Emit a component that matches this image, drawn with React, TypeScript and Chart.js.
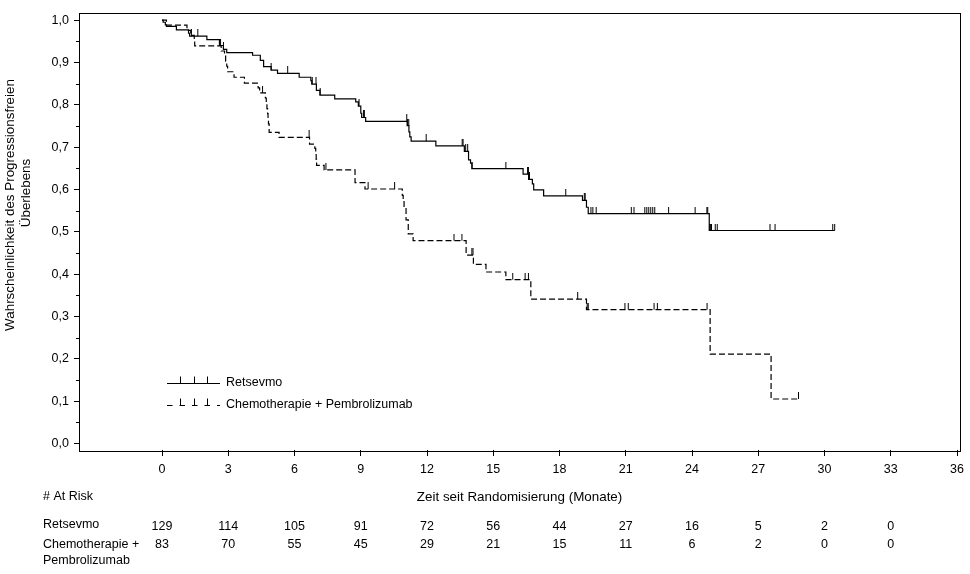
import { useEffect, useRef } from 'react';
import { Chart, registerables } from 'chart.js';
import type { Plugin } from 'chart.js';

Chart.register(...registerables);

const FONT = '"Liberation Sans", Arial, Helvetica, sans-serif';

const seriesLabels = ['Retsevmo', 'Chemotherapie + Pembrolizumab'];
const riskRowLabels = [['Retsevmo'], ['Chemotherapie +', 'Pembrolizumab']];
const yTitleLines = ['Wahrscheinlichkeit des Progressionsfreien', 'Überlebens'];
const xTitle = 'Zeit seit Randomisierung (Monate)';
const riskTitle = '# At Risk';

const xTicks = [0, 3, 6, 9, 12, 15, 18, 21, 24, 27, 30, 33, 36];
const yTicks = [0, 0.1, 0.2, 0.3, 0.4, 0.5, 0.6, 0.7, 0.8, 0.9, 1.0];
const yMinorTicks = [0.05, 0.15, 0.25, 0.35, 0.45, 0.55, 0.65, 0.75, 0.85, 0.95];

// number at risk
const riskTimes = [0, 3, 6, 9, 12, 15, 18, 21, 24, 27, 30, 33];
const retsevmoRisk = [129, 114, 105, 91, 72, 56, 44, 27, 16, 5, 2, 0];
const chemoRisk = [83, 70, 55, 45, 29, 21, 15, 11, 6, 2, 0, 0];

// Retsevmo: event times (months) and survival after each drop
const retsevmoTimes = [
  0.05, 0.15, 0.2, 0.65, 1.2, 1.25, 2.03, 2.6, 2.78, 2.93, 4.1, 4.45, 4.6, 4.94, 5.23,
  6.21, 6.74, 6.78, 6.99, 7.15, 7.82, 8.77, 8.89, 9.0, 9.04, 9.22, 11.1, 11.18, 11.22,
  11.28, 12.4, 13.69, 13.88, 13.97, 14.03, 16.35, 16.6, 16.77, 16.83, 17.28, 19.04,
  19.22, 19.3, 24.78,
];
const retsevmoSurv = [
  0.995, 0.989, 0.985, 0.977, 0.969, 0.962, 0.954, 0.94, 0.931, 0.923, 0.917, 0.905,
  0.89, 0.882, 0.874, 0.865, 0.857, 0.849, 0.834, 0.823, 0.814, 0.807, 0.797, 0.78,
  0.77, 0.761, 0.751, 0.736, 0.724, 0.714, 0.703, 0.69, 0.67, 0.662, 0.649, 0.636,
  0.624, 0.613, 0.599, 0.585, 0.574, 0.558, 0.543, 0.503,
];
const retsevmoCensored = [
  1.33, 1.62, 2.78, 4.94, 5.69, 6.8, 6.97, 7.16, 8.92, 9.12, 9.16, 11.08, 11.12, 11.17,
  11.96, 13.59, 13.63, 13.75, 13.84, 14.04, 15.57, 16.55, 16.59, 16.64, 18.28, 19.12,
  19.16, 19.42, 19.51, 19.66, 21.25, 21.37, 21.86, 21.95, 22.04, 22.13, 22.22, 22.31,
  22.94, 24.14, 24.67, 24.71, 24.8, 24.84, 24.88, 25.05, 25.14, 27.53, 27.76, 30.37,
  30.46,
];

// Chemotherapie + Pembrolizumab
const chemoTimes = [
  0.2, 1.13, 1.3, 1.46, 1.48, 2.68, 2.83, 2.88, 2.93, 2.97, 3.26, 3.73, 4.35, 4.42,
  4.68, 4.72, 4.75, 4.78, 4.8, 4.82, 4.85, 5.3, 6.68, 6.92, 6.96, 6.98, 7.0, 7.34,
  8.74, 9.19, 10.88, 10.92, 10.96, 11.05, 11.15, 11.37, 13.77, 14.1, 14.67, 15.57,
  16.7, 19.22, 24.82, 27.58,
];
const chemoSurv = [
  0.988, 0.976, 0.964, 0.952, 0.939, 0.927, 0.915, 0.903, 0.891, 0.878, 0.865, 0.851,
  0.84, 0.828, 0.816, 0.803, 0.791, 0.779, 0.767, 0.755, 0.735, 0.723, 0.707, 0.697,
  0.685, 0.671, 0.657, 0.646, 0.616, 0.601, 0.586, 0.571, 0.556, 0.528, 0.495, 0.479,
  0.445, 0.423, 0.405, 0.387, 0.341, 0.316, 0.211, 0.105,
];
const chemoCensored = [
  2.65, 4.55, 6.66, 7.42, 9.33, 10.53, 13.22, 13.58, 14.03, 14.08, 15.88, 16.44, 16.59,
  18.82, 19.25, 19.3, 20.96, 21.11, 22.28, 22.43, 24.68, 28.82,
];

function stepAt(times: number[], surv: number[], t: number) {
  let s = 1;
  for (let i = 0; i < times.length; i++) {
    if (times[i] <= t) s = surv[i];
  }
  return s;
}

function curvePoints(times: number[], surv: number[], censored: number[]) {
  const pts = [{ x: 0, y: 1 }];
  times.forEach((t, i) => pts.push({ x: t, y: surv[i] }));
  const end = Math.max(...censored, times[times.length - 1]);
  pts.push({ x: end, y: surv[surv.length - 1] });
  return pts;
}

function censorPoints(times: number[], surv: number[], censored: number[]) {
  return censored.map(t => ({ x: t, y: stepAt(times, surv, t) }));
}

function makeCensorMark() {
  const c = document.createElement('canvas');
  c.width = 3;
  c.height = 14;
  const g = c.getContext('2d');
  if (g) {
    g.fillStyle = '#000';
    g.fillRect(1, 0, 1, 7);
  }
  return c;
}

const decorPlugin: Plugin = {
  id: 'kmDecor',
  afterDraw(chart) {
    const { ctx, chartArea: a, scales } = chart;
    const xs = scales.x;
    const ys = scales.y;
    ctx.save();
    ctx.strokeStyle = '#000';
    ctx.fillStyle = '#000';
    ctx.lineWidth = 1;

    // frame
    ctx.strokeRect(Math.round(a.left) + 0.5, Math.round(a.top) + 0.5,
      Math.round(a.right - a.left), Math.round(a.bottom - a.top));

    // minor y ticks
    yMinorTicks.forEach(v => {
      const py = Math.round(ys.getPixelForValue(v)) + 0.5;
      ctx.beginPath();
      ctx.moveTo(a.left - 3, py);
      ctx.lineTo(a.left, py);
      ctx.stroke();
    });

    // y title
    ctx.font = `13.4px ${FONT}`;
    ctx.textAlign = 'center';
    ctx.textBaseline = 'middle';
    [[10.7, 205], [26.7, 193]].forEach(([tx, ty], i) => {
      ctx.save();
      ctx.translate(tx, ty);
      ctx.rotate(-Math.PI / 2);
      ctx.fillText(yTitleLines[i], 0, 0);
      ctx.restore();
    });

    // x title
    ctx.fillText(xTitle, (a.left + a.right) / 2, 497);

    // at-risk table
    ctx.font = `12.5px ${FONT}`;
    ctx.textAlign = 'left';
    ctx.fillText(riskTitle, 43, 497);
    ctx.fillText(riskRowLabels[0][0], 43, 525);
    ctx.fillText(riskRowLabels[1][0], 43, 545);
    ctx.fillText(riskRowLabels[1][1], 43, 561);
    ctx.textAlign = 'center';
    riskTimes.forEach((t, i) => {
      const px = xs.getPixelForValue(t);
      ctx.fillText(String(retsevmoRisk[i]), px, 527);
      ctx.fillText(String(chemoRisk[i]), px, 545);
    });

    // legend
    const rows = [383, 405];
    seriesLabels.forEach((label, i) => {
      const ly = rows[i] + 0.5;
      const x0 = a.left + 88;
      const x1 = a.left + 141;
      ctx.beginPath();
      ctx.setLineDash(i === 0 ? [] : [5.5, 7]);
      ctx.moveTo(x0, ly);
      ctx.lineTo(x1, ly);
      ctx.stroke();
      ctx.setLineDash([]);
      [101, 114.5, 128].forEach(dx => {
        const tx = Math.round(a.left + dx) + 0.5;
        ctx.beginPath();
        ctx.moveTo(tx, ly);
        ctx.lineTo(tx, ly - 7);
        ctx.stroke();
      });
      ctx.textAlign = 'left';
      ctx.fillText(label, a.left + 147, rows[i]);
    });

    ctx.restore();
  },
};

export default function App() {
  const chartRef = useRef<HTMLCanvasElement>(null);
  const chartInstance = useRef<Chart | null>(null);

  useEffect(() => {
    document.body.style.margin = '0';
    if (!chartRef.current) return;
    if (chartInstance.current) chartInstance.current.destroy();
    const ctx = chartRef.current.getContext('2d');
    if (!ctx) return;

    const mark = makeCensorMark();

    chartInstance.current = new Chart(ctx, {
      type: 'line',
      data: {
        datasets: [
          {
            label: seriesLabels[0],
            data: curvePoints(retsevmoTimes, retsevmoSurv, retsevmoCensored),
            stepped: true,
            borderColor: '#000',
            borderWidth: 1.2,
            pointRadius: 0,
            fill: false,
          },
          {
            label: seriesLabels[1],
            data: curvePoints(chemoTimes, chemoSurv, chemoCensored),
            stepped: true,
            borderColor: '#000',
            borderWidth: 1.2,
            borderDash: [6, 3],
            pointRadius: 0,
            fill: false,
          },
          {
            type: 'scatter',
            label: seriesLabels[0] + ' zensiert',
            data: censorPoints(retsevmoTimes, retsevmoSurv, retsevmoCensored),
            pointStyle: mark,
            showLine: false,
          },
          {
            type: 'scatter',
            label: seriesLabels[1] + ' zensiert',
            data: censorPoints(chemoTimes, chemoSurv, chemoCensored),
            pointStyle: mark,
            showLine: false,
          },
        ] as any,
      },
      options: {
        animation: false,
        responsive: true,
        maintainAspectRatio: false,
        layout: { padding: { top: 3, right: 7, left: 0, bottom: 0 } },
        plugins: {
          legend: { display: false },
          tooltip: { enabled: false },
        },
        scales: {
          x: {
            type: 'linear',
            min: -3.76,
            max: 36.14,
            afterBuildTicks: axis => {
              axis.ticks = xTicks.map(v => ({ value: v }));
            },
            afterFit: axis => {
              axis.height = 124;
            },
            border: { display: false },
            grid: { drawOnChartArea: false, drawTicks: true, tickLength: 6, color: '#000', lineWidth: 1 },
            ticks: {
              autoSkip: false,
              maxRotation: 0,
              padding: 6,
              color: '#000',
              font: { family: FONT, size: 12.5 },
              callback: v => String(v),
            },
          },
          y: {
            type: 'linear',
            min: -0.0155,
            max: 1.018,
            afterBuildTicks: axis => {
              axis.ticks = yTicks.map(v => ({ value: v }));
            },
            afterFit: axis => {
              axis.width = 79;
            },
            border: { display: false },
            grid: { drawOnChartArea: false, drawTicks: true, tickLength: 5, color: '#000', lineWidth: 1 },
            ticks: {
              padding: 5,
              color: '#000',
              font: { family: FONT, size: 12.5 },
              callback: v => Number(v).toFixed(1).replace('.', ','),
            },
          },
        },
      },
      plugins: [decorPlugin],
    });

    return () => {
      if (chartInstance.current) {
        chartInstance.current.destroy();
        chartInstance.current = null;
      }
    };
  }, []);

  return (
    <div style={{ width: '970px', height: '574px', position: 'relative', background: '#fff' }}>
      <canvas ref={chartRef}></canvas>
    </div>
  );
}
